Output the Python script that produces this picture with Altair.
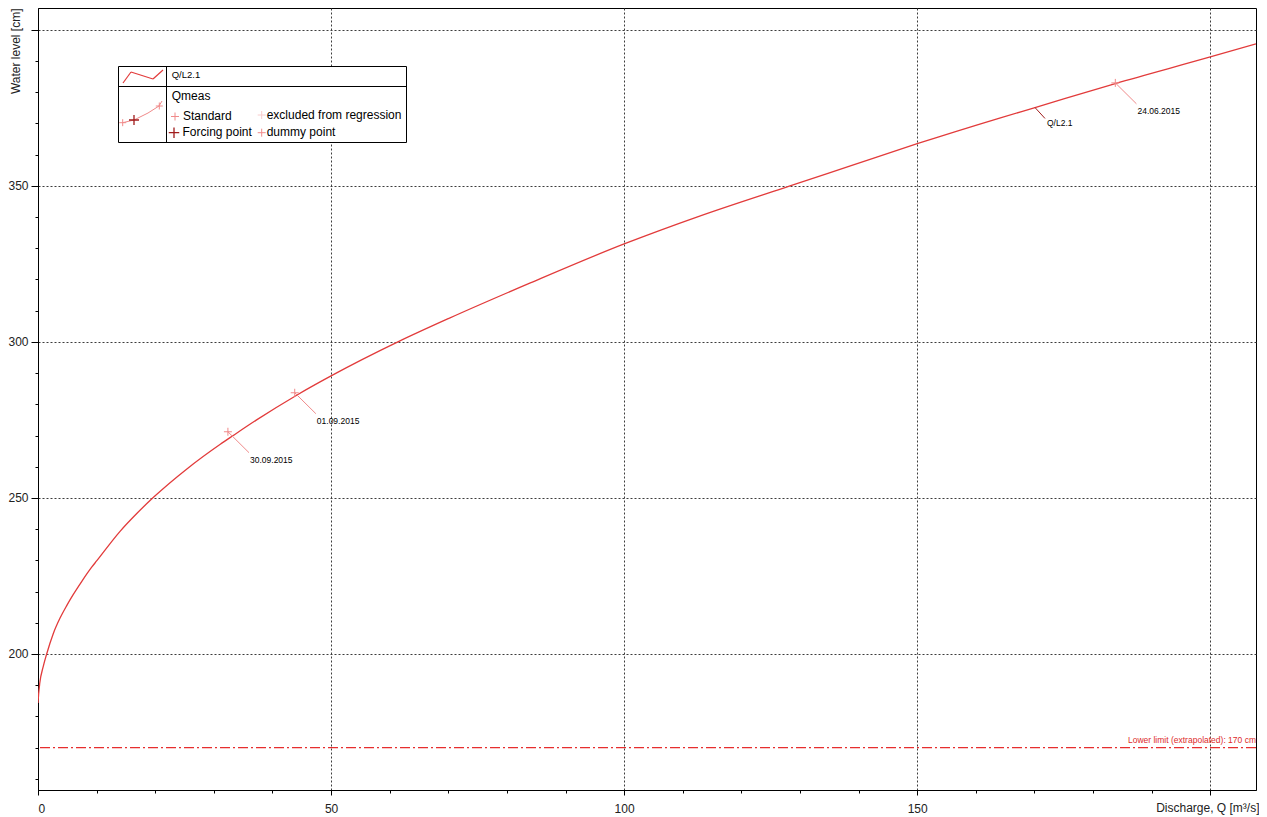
import altair as alt
import pandas as pd

# ---------------- data ----------------
curve_name = "Q/L2.1"
curve_q = [0.0, 0.1, 0.3, 0.9, 1.48, 2.6, 3.76, 4.9, 6.0, 7.45, 9.16, 10.0, 14.0,
           16.85, 19.7, 25.4, 31.1, 33.3, 37.3, 44.2, 50.0, 61.4, 70.3, 84.0, 100.0,
           113.0, 128.3, 138.6, 150.0, 164.2, 170.1, 183.8, 200.0, 207.8]
curve_h = [184.3, 187.0, 190.6, 196.0, 200.0, 206.5, 211.5, 215.5, 219.0, 223.2,
           227.8, 229.8, 239.3, 245.0, 250.2, 259.3, 267.2, 270.0, 275.0, 283.0, 289.1,
           300.0, 307.7, 318.9, 331.4, 340.4, 350.0, 356.4, 363.5, 371.8, 375.1, 382.8,
           391.3, 395.5]

meas_date = ["30.09.2015", "01.09.2015", "24.06.2015"]
meas_q = [32.4, 43.8, 183.8]
meas_h = [271.2, 283.7, 383.0]

curve_label_q = [170.1]
curve_label_h = [375.1]

lower_limit = [170]
lower_label = ["Lower limit (extrapolated): 170 cm"]

x_ticks = list(range(0, 210, 10))
y_ticks = list(range(160, 410, 10))

legend_texts = ["Q/L2.1", "Qmeas", "Standard", "excluded from regression",
                "Forcing point", "dummy point"]

# ---------------- styling ----------------
W, H = 1218, 782
X_DOMAIN = [0, 207.8]
Y_DOMAIN = [156.4, 407.0]
FONT = "Liberation Sans"
RED = "#e23b3b"
PINK = "#f08a8a"
PALE = "#f8cccc"
DARKRED = "#a01c1c"
PLUS = "M-1,0L1,0M0,-1L0,1"

curve_df = pd.DataFrame({"Q": curve_q, "H": curve_h})
meas_df = pd.DataFrame({"Q": meas_q, "H": meas_h, "date": meas_date})
lab_df = pd.DataFrame({"Q": curve_label_q, "H": curve_label_h, "name": [curve_name]})
low_df = pd.DataFrame({"H": lower_limit, "txt": lower_label})

xs = alt.Scale(domain=X_DOMAIN, nice=False, zero=False)
ys = alt.Scale(domain=Y_DOMAIN, nice=False, zero=False)

major = "datum.value % 50 === 0"
common_axis = dict(
    grid=True,
    gridOpacity={"condition": {"test": major, "value": 1}, "value": 0},
    gridDash=[2, 2], gridColor="#3c3c3c", gridWidth=1,
    domainColor="black", tickColor="black",
    labelFont=FONT, labelFontSize=12, labelColor="#222222",
    titleFont=FONT, titleFontSize=12, titleFontWeight="normal", titleColor="#222222",
)
x_axis = alt.Axis(values=x_ticks, title="Discharge, Q [m³/s]",
                  labelExpr=f"{major} && datum.value < 200 ? datum.label : ''",
                  tickSize={"condition": {"test": major, "value": 5}, "value": 3},
                  labelPadding=8,
                  titleX=W + 3, titleY=17, titleAlign="right", titleBaseline="middle",
                  **common_axis)
y_axis = alt.Axis(values=y_ticks, title="Water level [cm]",
                  labelExpr=f"{major} && datum.value < 400 ? datum.label : ''",
                  tickSize={"condition": {"test": major, "value": 7}, "value": 3},
                  labelPadding=3,
                  titleX=-23, titleY=0, titleAngle=-90, titleAlign="right",
                  titleBaseline="middle", **common_axis)

X = alt.X("Q:Q", scale=xs, axis=x_axis)
Y = alt.Y("H:Q", scale=ys, axis=y_axis)

curve = alt.Chart(curve_df).mark_line(color=RED, strokeWidth=1.3, clip=True,
                                      interpolate="monotone").encode(x=X, y=Y)

low_rule = alt.Chart(low_df).mark_rule(color="#e62e2e", strokeWidth=1.2,
                                       strokeDash=[10, 3, 2, 3]).encode(y=Y)
low_text = alt.Chart(low_df).mark_text(align="right", baseline="middle", dy=-7.5, font=FONT,
                                       fontSize=8.5, color="#dd2a2a").encode(
    x=alt.value(W), y=Y, text="txt:N")

DQ, DH = 3.6, 6.7
meas_base = alt.Chart(meas_df).transform_calculate(Q2=f"datum.Q + {DQ}", H2=f"datum.H - {DH}")
meas_lead = meas_base.mark_rule(color=PINK, strokeWidth=1).encode(
    x=X, y=Y, x2="Q2:Q", y2="H2:Q")
meas_pts = alt.Chart(meas_df).mark_point(shape=PLUS, size=64, filled=False, color=PINK,
                                         strokeWidth=1, opacity=1).encode(x=X, y=Y)
meas_txt = meas_base.mark_text(align="left", baseline="middle", dx=1, dy=7, font=FONT,
                               fontSize=8.5, color="black").encode(
    x=alt.X("Q2:Q", scale=xs, axis=x_axis), y=alt.Y("H2:Q", scale=ys, axis=y_axis), text="date:N")

lab_base = alt.Chart(lab_df).transform_calculate(Q2="datum.Q + 1.7", H2="datum.H - 3.5")
lab_lead = lab_base.mark_rule(color=DARKRED, strokeWidth=1).encode(x=X, y=Y, x2="Q2:Q", y2="H2:Q")
lab_txt = lab_base.mark_text(align="left", baseline="middle", dx=2, dy=4.5, font=FONT,
                             fontSize=8.5, color="black").encode(
    x=alt.X("Q2:Q", scale=xs, axis=x_axis), y=alt.Y("H2:Q", scale=ys, axis=y_axis), text="name:N")

# ---------------- legend box (pixel positions inside the plot area) ----------------
one = pd.DataFrame({"k": [0]})


def seg(x1, y1, x2, y2, color="black", width=1.0):
    return alt.Chart(one).mark_rule(color=color, strokeWidth=width).encode(
        x=alt.value(x1), y=alt.value(y1), x2=alt.value(x2), y2=alt.value(y2))


def txt(x, y, s, size):
    return alt.Chart(one).mark_text(text=s, align="left", baseline="middle", font=FONT,
                                    fontSize=size, color="black").encode(
        x=alt.value(x), y=alt.value(y))


def plus(x, y, color, size=64, width=1.0):
    return alt.Chart(one).mark_point(shape=PLUS, size=size, filled=False, color=color,
                                     strokeWidth=width, opacity=1).encode(
        x=alt.value(x), y=alt.value(y))


legend = [
    alt.Chart(one).mark_rect(fill="white", stroke="black", strokeWidth=1).encode(
        x=alt.value(80.5), x2=alt.value(368.5), y=alt.value(58.5), y2=alt.value(134.5)),
    seg(80.5, 78.5, 368.5, 78.5),
    seg(128.5, 58.5, 128.5, 134.5),
    seg(85, 75, 93, 64, RED, 1.2), seg(93, 64, 115, 71, RED, 1.2), seg(115, 71, 125, 62, RED, 1.2),
    seg(84.7, 114.7, 96, 112, PINK), seg(96, 112, 110, 105, PINK), seg(110, 105, 121, 98, PINK),
    seg(121, 98, 124, 93, PINK),
    plus(84.7, 114.7, PINK, 49), plus(121.3, 98, PINK, 49), plus(96, 112, DARKRED, 100, 1.3),
    txt(133.7, 67, legend_texts[0], 9.5),
    txt(133.7, 88, legend_texts[1], 12),
    plus(137, 108.5, PINK, 64), txt(145, 108, legend_texts[2], 12),
    plus(223.7, 107, PALE, 64), txt(228.7, 107, legend_texts[3], 12),
    plus(136, 124.7, DARKRED, 110, 1.3), txt(144.5, 124, legend_texts[4], 12),
    plus(223.7, 124.7, PINK, 64), txt(228.7, 124, legend_texts[5], 12),
]

chart = alt.layer(
    curve, low_rule, low_text, meas_lead, meas_pts, meas_txt, lab_lead, lab_txt, *legend
).properties(
    width=W, height=H,
    autosize=alt.AutoSizeParams(type="none"),
    padding={"left": 30, "top": 0, "right": 3, "bottom": 25},
    background="white",
).configure_view(stroke="black", strokeWidth=1)

chart.save("out.html", embed_options={"renderer": "svg", "actions": False})
